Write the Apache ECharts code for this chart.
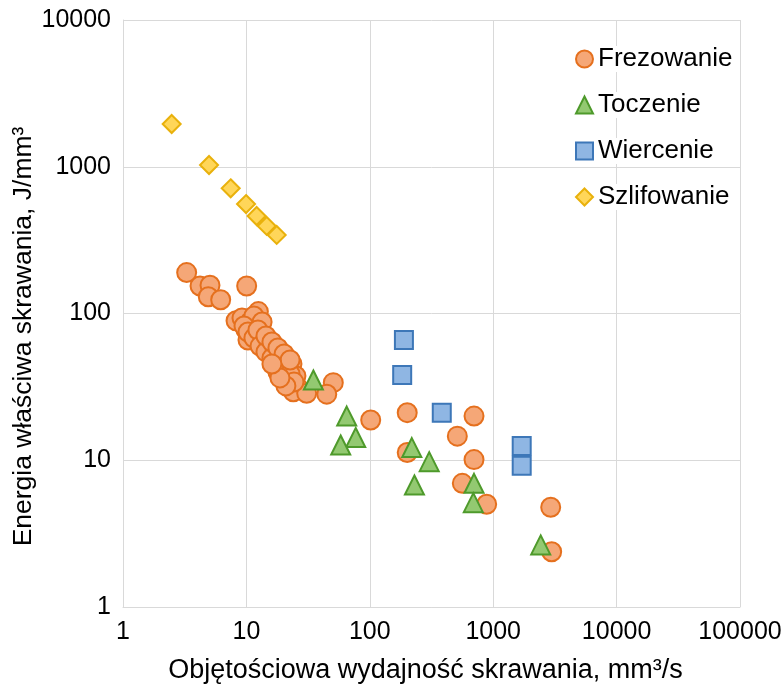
<!DOCTYPE html>
<html>
<head>
<meta charset="utf-8">
<script src="https://cdn.jsdelivr.net/npm/echarts@6/dist/echarts.min.js"></script>
<style>html,body{margin:0;padding:0;background:#fff}#c{width:782px;height:693px}</style>
</head>
<body>
<div id="c"></div>
<script>
const seriesNames = ['Frezowanie', 'Toczenie', 'Wiercenie', 'Szlifowanie'];
const xTickLabels = ['1', '10', '100', '1000', '10000', '100000'];
const yTickLabels = ['1', '10', '100', '1000', '10000'];

const frezowanie = [
  [3.28,190],[4.21,154],[5.07,156],[4.91,130],[6.19,124],[10.05,154],[8.24,89.3],[12.5,103],
  [9.21,93.2],[9.93,77.2],[10.7,87.5],[11.1,70.3],[11.96,79.7],[12.4,63.9],[13.4,72.5],[13.9,58.2],
  [15.0,66.0],[15.5,53.0],[16.7,60.0],[17.4,48.2],[18.7,54.7],[19.4,43.9],[20.9,49.8],[21.7,39.9],
  [23.4,45.3],[22.6,35.2],[25.2,37.5],[20.2,35.2],[26.2,31.1],[18.0,39.9],[11.5,96.2],[13.4,87.5],
  [10.3,66.0],[24.0,29.3],[30.8,28.6],[50.6,33.8],[44.8,28.2],
  [9.56,82.2],[10.3,74.8],[11.5,68.1],[12.4,77.2],[12.9,60.0],[14.4,54.7],[14.4,70.3],[16.1,49.8],
  [16.1,63.9],[18.0,45.3],[18.0,58.2],[20.2,41.2],[20.2,53.0],[22.6,38.7],[22.6,48.2],[24.3,34.1],
  [20.9,32.1],[18.7,36.4],[16.1,45.3],
  [101.7,18.8],[201,21.1],[201,11.3],[699,20.0],[512,14.6],[699,10.1],[562,6.96],[885,5.01],
  [2924,4.78],[2977,2.38]
];
const toczenie = [
  [34.9,35.2],[65.0,20.0],[76.9,14.3],[58.1,12.7],[219,12.2],[303,9.78],[230,6.78],[699,6.96],
  [690,5.14],[2427,2.65]
];
const wiercenie = [
  [189,65.9],[183,38.1],[383,21.1],[1702,12.5],[1702,9.18]
];
const szlifowanie = [
  [2.48,1955],[4.98,1028],[7.46,713],[9.93,557],[12.1,462],[14.6,395],[17.6,343]
];

const font = 'Liberation Sans, Arial, sans-serif';
const chart = echarts.init(document.getElementById('c'));

function mk(name, data, symbol, size, fill, border) {
  return {
    name, type: 'scatter', data, symbol, symbolSize: size,
    itemStyle: { color: fill, borderColor: border, borderWidth: 2, opacity: 1 },
    emphasis: { disabled: true }
  };
}

chart.setOption({
  animation: false,
  backgroundColor: '#fff',
  grid: { left: 123, top: 20, right: 42, bottom: 86, containLabel: false, outerBoundsMode: 'none' },
  legend: {
    orient: 'vertical', left: 570, top: 41,
    itemWidth: 17, itemHeight: 17, itemGap: 20,
    textStyle: { fontFamily: font, fontSize: 26, color: '#000', backgroundColor: '#fff', padding: [0, 2, 0, 0] },
    data: seriesNames
  },
  xAxis: {
    type: 'log', logBase: 10, min: 1, max: 100000, interval: 1,
    name: 'Objętościowa wydajność skrawania, mm³/s',
    nameLocation: 'middle', nameGap: 50, nameMoveOverlap: false,
    nameTextStyle: { fontFamily: font, fontSize: 27, color: '#000', padding: [0, 12, 0, 0] },
    axisLine: { show: true, lineStyle: { color: '#d9d9d9', width: 1 } },
    axisTick: { show: false },
    axisLabel: { fontFamily: font, fontSize: 25, color: '#000', margin: 13,
      formatter: (v) => xTickLabels[Math.round(Math.log10(v))] },
    splitLine: { show: true, lineStyle: { color: '#d9d9d9', width: 1 } }
  },
  yAxis: {
    type: 'log', logBase: 10, min: 1, max: 10000, interval: 1,
    name: 'Energia właściwa skrawania, J/mm³',
    nameLocation: 'middle', nameGap: 86, nameMoveOverlap: false,
    nameTextStyle: { fontFamily: font, fontSize: 26.5, color: '#000', padding: [0, 46, 0, 0] },
    axisLine: { show: true, lineStyle: { color: '#d9d9d9', width: 1 } },
    axisTick: { show: false },
    axisLabel: { fontFamily: font, fontSize: 25, color: '#000', margin: 12,
      formatter: (v) => yTickLabels[Math.round(Math.log10(v))] },
    splitLine: { show: true, lineStyle: { color: '#d9d9d9', width: 1 } }
  },
  series: [
    mk(seriesNames[0], frezowanie, 'circle', 19, '#F5A777', '#E5701E'),
    mk(seriesNames[1], toczenie, 'triangle', 19, '#93C971', '#4E9A2B'),
    mk(seriesNames[2], wiercenie, 'rect', 18, '#8FB6E3', '#3D77B8'),
    mk(seriesNames[3], szlifowanie, 'diamond', 18, '#FFD659', '#E9B10C')
  ]
});
</script>
</body>
</html>
